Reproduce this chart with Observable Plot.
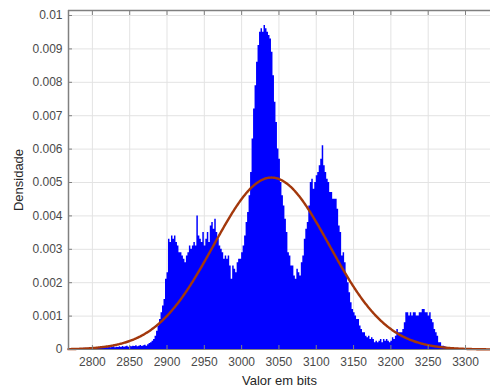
<!DOCTYPE html>
<html>
<head>
<meta charset="utf-8">
<script src="https://cdn.jsdelivr.net/npm/d3@7"></script>
<script src="https://cdn.jsdelivr.net/npm/@observablehq/plot@0.6"></script>
<style>
  body { margin: 0; background: #fff; }
  svg { font-family: "Liberation Sans", Arial, sans-serif; }
</style>
</head>
<body>
<div id="chart"></div>
<script>
// Histogram: left edge of first bin, bin width, densities per bin
const binStart = 2776;
const binWidth = 2;
const densities = [
  0.00001, 0.00002, 0.00001, 0.00003, 0.00002, 0.00002, 0.00004, 0.00003, 0.00002, 0.00004,
  0.00003, 0.00005, 0.00003, 0.00004, 0.00006, 0.00004, 0.00005, 0.00003, 0.00005, 0.00006,
  0.00004, 0.00006, 0.00005, 0.00007, 0.00005, 0.00006, 0.00008, 0.00005, 0.00007, 0.00006,
  0.00008, 0.00006, 0.00009, 0.00007, 0.00008, 0.0001, 0.00007, 0.00009, 0.00008, 0.0001,
  0.00009, 0.00011, 0.00008, 0.0001, 0.00012, 0.00009, 0.00011, 0.00013, 0.0001, 0.00014,
  0.00018, 0.0002, 0.00025, 0.0003, 0.0004, 0.00055, 0.0007, 0.0009, 0.0011, 0.0013,
  0.0015, 0.0021, 0.0023, 0.0033, 0.0032, 0.0034, 0.0033, 0.0034, 0.0032, 0.0031,
  0.0029, 0.0029, 0.0028, 0.0027, 0.0026, 0.0028, 0.0029, 0.0031, 0.003, 0.0031,
  0.0032, 0.0031, 0.004, 0.0034, 0.0033, 0.0032, 0.0035, 0.0031, 0.0033, 0.0035,
  0.0032, 0.0037, 0.0038, 0.0036, 0.0039, 0.0035, 0.0033, 0.0031, 0.003, 0.0029,
  0.0027, 0.0028, 0.0027, 0.0028, 0.0025, 0.0021, 0.0025, 0.0024, 0.0023, 0.0026,
  0.0027, 0.0027, 0.0029, 0.0031, 0.0034, 0.0038, 0.0041, 0.0046, 0.0053, 0.0063,
  0.0072, 0.0079, 0.0086, 0.0091, 0.0095, 0.0096, 0.0095, 0.0097, 0.0096, 0.0095,
  0.0094, 0.0093, 0.0089, 0.0082, 0.0074, 0.0068, 0.006, 0.0057, 0.005, 0.0046,
  0.0043, 0.0039, 0.0035, 0.0029, 0.0028, 0.0025, 0.0025, 0.0022, 0.0021, 0.0024,
  0.0023, 0.0022, 0.0026, 0.0028, 0.0033, 0.0036, 0.0038, 0.0043, 0.005, 0.0051,
  0.0048, 0.005, 0.0052, 0.0053, 0.0055, 0.0057, 0.0061, 0.0055, 0.0053, 0.0051,
  0.005, 0.0047, 0.0047, 0.0045, 0.0045, 0.0045, 0.0042, 0.0037, 0.0035, 0.0028,
  0.0029, 0.0026, 0.0022, 0.002, 0.0017, 0.0014, 0.0012, 0.0011, 0.001, 0.0009,
  0.0009, 0.0007, 0.0006, 0.0005, 0.0005, 0.0004, 0.00035, 0.0004, 0.0003, 0.00035,
  0.0003, 0.0002, 0.00025, 0.0002, 0.00025, 0.0003, 0.0002, 0.0003, 0.00025, 0.0003,
  0.00025, 0.0002, 0.00025, 0.00035, 0.0003, 0.0004, 0.0006, 0.0005, 0.0005, 0.0005,
  0.0006, 0.0008, 0.0011, 0.0011, 0.001, 0.0011, 0.001, 0.0011, 0.0011, 0.001,
  0.001, 0.0011, 0.0011, 0.0012, 0.0012, 0.0011, 0.0011, 0.001, 0.0011, 0.0009,
  0.0008, 0.0006, 0.0005, 0.0004, 0.0002, 0.0002, 0.0001, 0.0001, 0.00008, 0.00005,
  0.00004, 0.00003, 0.00002, 0.00002, 0.00001, 0.00001, 0.00001
];

// Fitted normal distribution parameters
const fitMean = 3040;
const fitSigma = 77.5;

// Tick labels
const xTicks = [2800, 2850, 2900, 2950, 3000, 3050, 3100, 3150, 3200, 3250, 3300];
const yTicks = [0, 0.001, 0.002, 0.003, 0.004, 0.005, 0.006, 0.007, 0.008, 0.009, 0.01];
const xDomain = [2768, 3333.5];
const yDomain = [0, 0.01015];

// Build tables
const hist = densities.map((d, i) => ({x: binStart + i * binWidth, y: d}));
hist.push({x: binStart + densities.length * binWidth, y: densities[densities.length - 1]});

const curveXs = d3.range(xDomain[0], xDomain[1] + 1, 1);
const curve = curveXs.map(x => ({
  x,
  y: Math.exp(-0.5 * ((x - fitMean) / fitSigma) ** 2) / (fitSigma * Math.sqrt(2 * Math.PI))
}));

const fmtY = d => String(+d.toFixed(3));
const gridColor = "#e3e3e3";
const axisColor = "#808080";
const tickTextColor = "#4a4a4a";

const chart = Plot.plot({
  width: 490,
  height: 388,
  marginLeft: 68,
  marginRight: 0,
  marginTop: 10,
  marginBottom: 39,
  style: {fontSize: "12px", fontFamily: "'Liberation Sans', Arial, sans-serif", background: "#fff"},
  x: {domain: xDomain},
  y: {domain: yDomain},
  marks: [
    Plot.gridX(xTicks, {stroke: gridColor, strokeOpacity: 1, strokeWidth: 1}),
    Plot.gridY(yTicks, {stroke: gridColor, strokeOpacity: 1, strokeWidth: 1}),
    Plot.areaY(hist, {x: "x", y: "y", curve: "step-after", fill: "#0000ff"}),
    Plot.line(curve, {x: "x", y: "y", stroke: "#a3380c", strokeWidth: 2.4}),
    // frame lines
    Plot.ruleY([yDomain[1]], {stroke: axisColor, strokeWidth: 1.5}),
    Plot.ruleX([xDomain[0]], {stroke: axisColor, strokeWidth: 1.5}),
    Plot.ruleY([0], {stroke: axisColor, strokeWidth: 1}),
    // inward ticks
    Plot.axisX(xTicks, {anchor: "top", tickSize: 4, dy: 4, text: null, stroke: axisColor, label: null}),
    Plot.axisX(xTicks, {anchor: "bottom", tickSize: 4, dy: -4, text: null, stroke: axisColor, label: null}),
    Plot.axisY(yTicks, {anchor: "left", tickSize: 4, dx: 4, text: null, stroke: axisColor, label: null}),
    // tick labels
    Plot.axisX(xTicks, {anchor: "bottom", tickSize: 0, tickPadding: 8, fill: tickTextColor, fontSize: 12, label: null, tickFormat: d => String(d)}),
    Plot.axisY(yTicks, {anchor: "left", tickSize: 0, tickPadding: 6, fill: tickTextColor, fontSize: 12, label: null, tickFormat: fmtY}),
    // axis titles
    Plot.text(["Valor em bits"], {frameAnchor: "bottom", dy: 31, lineAnchor: "middle", fontSize: 13, fill: "#262626"}),
    Plot.text(["Densidade"], {frameAnchor: "left", dx: -50, rotate: -90, lineAnchor: "middle", textAnchor: "middle", fontSize: 13, fill: "#262626"})
  ]
});
document.getElementById("chart").append(chart);
</script>
</body>
</html>
